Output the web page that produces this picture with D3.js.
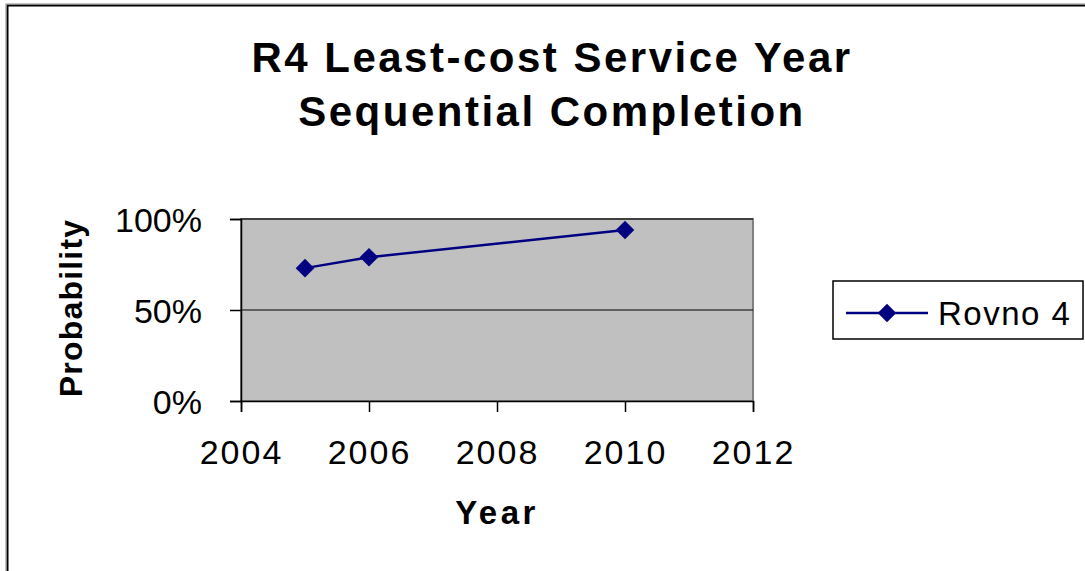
<!DOCTYPE html>
<html>
<head>
<meta charset="utf-8">
<script src="https://cdn.jsdelivr.net/npm/d3@7"></script>
<style>
  html, body { margin: 0; padding: 0; background: #fff; }
  svg { display: block; }
  text { font-family: "Liberation Sans", Arial, sans-serif; fill: #000; }
</style>
</head>
<body>
<svg id="chart" width="1085" height="571"></svg>
<script>
// Series data
const years = [2005, 2006, 2010];
const probabilities = [0.73, 0.79, 0.94];
const seriesName = "Rovno 4";

// Axis ticks
const xTicks = [2004, 2006, 2008, 2010, 2012];
const yTicks = [0, 0.5, 1];

const titleLines = ["R4 Least-cost Service Year", "Sequential Completion"];
const xTitle = "Year";
const yTitle = "Probability";

const svg = d3.select("#chart");
const W = 1085, H = 571;

// Outer chart frame (double line)
svg.append("rect").attr("x", 7.5).attr("y", 5.5).attr("width", W + 20).attr("height", H + 20)
  .attr("fill", "#fff").attr("stroke", "#000").attr("stroke-width", 2);
svg.append("rect").attr("x", 6).attr("y", 4).attr("width", W + 20).attr("height", H + 20)
  .attr("fill", "none").attr("stroke", "#888").attr("stroke-width", 1);

const plot = { left: 241, right: 753, top: 219, bottom: 401 };

const x = d3.scaleLinear().domain([2004, 2012]).range([plot.left, plot.right]);
const y = d3.scaleLinear().domain([0, 1]).range([plot.bottom, plot.top]);

// Plot area
svg.append("rect")
  .attr("x", plot.left).attr("y", plot.top)
  .attr("width", plot.right - plot.left).attr("height", plot.bottom - plot.top)
  .attr("fill", "#c0c0c0").attr("stroke", "#808080").attr("stroke-width", 2);

// Gridlines
svg.append("g").selectAll("line").data(yTicks.filter(d => d > 0)).join("line")
  .attr("x1", plot.left).attr("x2", plot.right)
  .attr("y1", d => y(d)).attr("y2", d => y(d))
  .attr("stroke", "#000").attr("stroke-width", 1.2);

// Y axis
const yAxis = svg.append("g")
  .attr("transform", `translate(${plot.left},0)`)
  .call(d3.axisLeft(y).tickValues(yTicks).tickFormat(d3.format(".0%")).tickSize(11).tickPadding(28));
yAxis.select(".domain").attr("stroke", "#000").attr("stroke-width", 1.5);
yAxis.selectAll(".tick line").attr("stroke", "#000").attr("stroke-width", 1.5);
yAxis.selectAll("text").style("font-size", "34px").attr("fill", "#000").attr("dy", "0.36em");

// X axis
const xAxis = svg.append("g")
  .attr("transform", `translate(0,${plot.bottom})`)
  .call(d3.axisBottom(x).tickValues(xTicks).tickFormat(d3.format("d")).tickSize(11).tickPadding(28));
xAxis.select(".domain").attr("stroke", "#000").attr("stroke-width", 1.5);
xAxis.selectAll(".tick line").attr("stroke", "#000").attr("stroke-width", 1.5);
xAxis.selectAll("text").style("font-size", "34px").style("letter-spacing", "2px").attr("fill", "#000");

// Series line and markers
const data = years.map((yr, i) => ({ year: yr, p: probabilities[i] }));
svg.append("path").datum(data)
  .attr("fill", "none").attr("stroke", "#000080").attr("stroke-width", 2.5)
  .attr("d", d3.line().x(d => x(d.year)).y(d => y(d.p)));

const diamond = d3.symbol().type(d3.symbolDiamond2).size(220);
svg.append("g").selectAll("path").data(data).join("path")
  .attr("transform", d => `translate(${x(d.year)},${y(d.p)})`)
  .attr("d", diamond).attr("fill", "#000080");

// Title
svg.append("text").attr("x", 552).attr("text-anchor", "middle")
  .style("font-size", "42px").style("font-weight", "bold").style("letter-spacing", "2.5px")
  .selectAll("tspan").data(titleLines).join("tspan")
  .attr("x", 552).attr("y", (d, i) => 72 + i * 54).text(d => d);

// Axis titles
svg.append("text").attr("x", 497).attr("y", 524).attr("text-anchor", "middle")
  .style("font-size", "33px").style("font-weight", "bold").style("letter-spacing", "3.5px")
  .text(xTitle);
svg.append("text").attr("transform", "translate(82,308) rotate(-90)").attr("text-anchor", "middle")
  .style("font-size", "32px").style("font-weight", "bold").style("letter-spacing", "1.2px")
  .text(yTitle);

// Legend
const lg = svg.append("g");
lg.append("rect").attr("x", 833).attr("y", 281).attr("width", 250).attr("height", 58)
  .attr("fill", "#fff").attr("stroke", "#000").attr("stroke-width", 1.5);
lg.append("line").attr("x1", 846).attr("x2", 928).attr("y1", 313).attr("y2", 313)
  .attr("stroke", "#000080").attr("stroke-width", 2.5);
lg.append("path").attr("transform", "translate(887,313)").attr("d", diamond).attr("fill", "#000080");
lg.append("text").attr("x", 938).attr("y", 325).style("font-size", "33px").style("letter-spacing", "1.5px")
  .text(seriesName);
</script>
</body>
</html>
